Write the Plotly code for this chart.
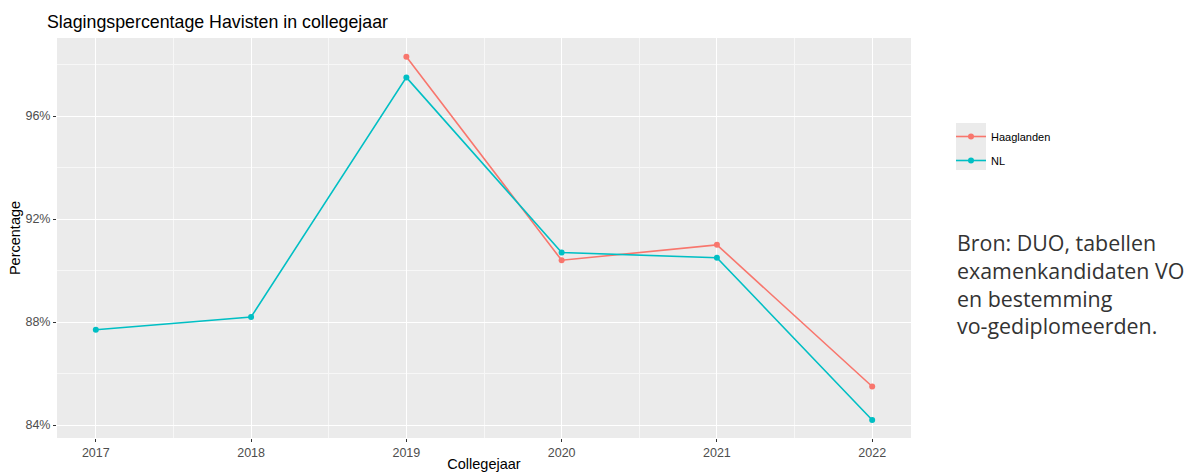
import plotly.graph_objects as go

years_nl = [2017, 2018, 2019, 2020, 2021, 2022]
nl_values = [87.7, 88.2, 97.5, 90.7, 90.5, 84.2]
years_hg = [2019, 2020, 2021, 2022]
hg_values = [98.3, 90.4, 91.0, 85.5]
y_ticks = [84, 88, 92, 96]
y_tick_labels = ["84%", "88%", "92%", "96%"]
x_ticks = [2017, 2018, 2019, 2020, 2021, 2022]

HG_COLOR = "#F8766D"
NL_COLOR = "#00BFC4"

fig = go.Figure()
fig.add_trace(go.Scatter(x=years_hg, y=hg_values, mode="lines+markers", name="Haaglanden",
                         legendgroup="hg",
                         line=dict(color=HG_COLOR, width=1.6), marker=dict(color=HG_COLOR, size=6)))
fig.add_trace(go.Scatter(x=years_nl, y=nl_values, mode="lines+markers", name="NL",
                         legendgroup="nl",
                         line=dict(color=NL_COLOR, width=1.6), marker=dict(color=NL_COLOR, size=6)))

W, H = 1184, 472
L, R, T, B = 57, 273, 38, 34
pw, ph = W - L - R, H - T - B

def px_x(p):
    return (p - L) / pw

def px_y(p):
    return (H - B - p) / ph

fig.update_layout(
    width=W, height=H,
    margin=dict(l=L, r=R, t=T, b=B),
    paper_bgcolor="white",
    plot_bgcolor="#EBEBEB",
    font=dict(family="Liberation Sans, Arial, sans-serif", color="#000000"),
    title=dict(text="Slagingspercentage Havisten in collegejaar", x=47 / W, xref="container",
               xanchor="left", y=1 - 22 / H, yref="container", yanchor="middle",
               automargin=False, pad=dict(l=0, r=0, t=0, b=0),
               font=dict(size=17.8, color="#000000")),
    xaxis=dict(range=[2016.75, 2022.25], tickvals=x_ticks, ticktext=[str(v) for v in x_ticks],
               automargin=False,
               showgrid=True, gridcolor="white", gridwidth=1.3, zeroline=False,
               ticks="outside", ticklen=3, tickcolor="#333333", tickwidth=1,
               tickfont=dict(size=12.5, color="#4D4D4D"),
               minor=dict(dtick=0.5, tick0=2016.5, showgrid=True, gridcolor="#F7F7F7", gridwidth=0.6),
               title=dict(text="Collegejaar", font=dict(size=14.5, color="#000000"), standoff=3)),
    yaxis=dict(range=[83.5, 99.03], tickvals=y_ticks, ticktext=y_tick_labels,
               automargin=False,
               showgrid=True, gridcolor="white", gridwidth=1.3, zeroline=False,
               ticks="outside", ticklen=3, tickcolor="#333333", tickwidth=1,
               tickfont=dict(size=12.5, color="#4D4D4D"),
               minor=dict(dtick=2, tick0=82, showgrid=True, gridcolor="#F7F7F7", gridwidth=0.6),
               title=dict(text="Percentage", font=dict(size=14.5, color="#000000"), standoff=1)),
    legend=dict(x=px_x(951), y=px_y(122), xanchor="left", yanchor="top",
                bgcolor="rgba(0,0,0,0)", font=dict(size=11, color="#000000"),
                itemwidth=30, tracegroupgap=5, traceorder="grouped"),
    showlegend=True,
)

fig.add_shape(type="rect", xref="paper", yref="paper",
              x0=px_x(956), x1=px_x(986), y0=px_y(170), y1=px_y(123),
              fillcolor="#EBEBEB", line=dict(width=0), layer="below")

fig.add_annotation(text="Bron: DUO, tabellen<br>examenkandidaten VO<br>en bestemming<br>vo-gediplomeerden.",
                   xref="paper", yref="paper", x=px_x(955), y=px_y(226),
                   xanchor="left", yanchor="top", align="left", showarrow=False,
                   font=dict(family="Open Sans, Noto Sans, sans-serif", size=21.4, color="#333333"))

fig.write_html("out.html", config={"displayModeBar": False},
               post_script="document.body.style.margin='0px';")
